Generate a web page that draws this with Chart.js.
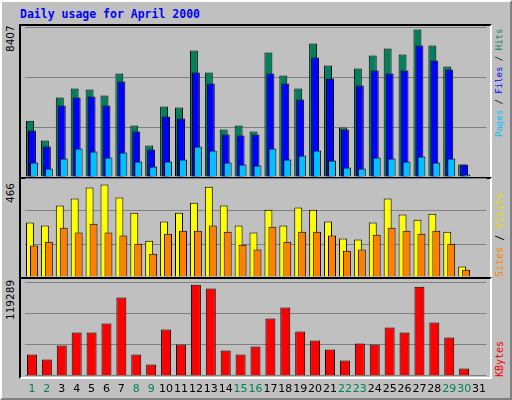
<!DOCTYPE html>
<html>
<head>
<meta charset="utf-8">
<script src="https://cdn.jsdelivr.net/npm/chart.js@4/dist/chart.umd.min.js"></script>
<style>
  body { margin: 0; width: 512px; height: 400px; background: #c0c0c0; position: relative; overflow: hidden; font-family: "DejaVu Sans Mono", monospace; }
  #frame { position: absolute; left: 0; top: 0; width: 508px; height: 396px; border-top: 2px solid #fff; border-left: 2px solid #fff; border-right: 2px solid #808080; border-bottom: 2px solid #808080; }
  .panel { position: absolute; left: 19px; width: 469px; border-top: 2px solid #000; border-left: 2px solid #000; border-right: 2px solid #fff; border-bottom: 2px solid #fff; }
  canvas { position: absolute; }
  .vt { position: absolute; transform-origin: 0 0; transform: rotate(-90deg); white-space: nowrap; font-size: 10px; }
  .num { font-family: "DejaVu Sans"; font-size: 10.5px; }
  #title { position: absolute; left: 20px; top: 7px; color: #0000ff; font-weight: bold; font-size: 11.5px; }
</style>
</head>
<body>
<div id="frame"></div>
<div id="title">Daily usage for April 2000</div>
<div class="panel" style="top:24px;height:151px"></div>
<div class="panel" style="top:177px;height:98px"></div>
<div class="panel" style="top:277px;height:98px"></div>
<canvas id="c1" style="left:21px;top:26.7px" width="469" height="150"></canvas>
<canvas id="c2" style="left:21px;top:177.7px" width="469" height="99"></canvas>
<canvas id="c3" style="left:21px;top:281.7px" width="469" height="118.3"></canvas>

<div class="vt num" style="left:4px;top:52px">8407</div>
<div class="vt num" style="left:4px;top:203px">466</div>
<div class="vt num" style="left:4px;top:320px">119289</div>
<div class="vt" style="left:494px;top:137px;font-size:9px"><span style="color:#00c0ff">Pages</span> / <span style="color:#0000ff">Files</span> / <span style="color:#00805c">Hits</span></div>
<div class="vt" style="left:494px;top:277px"><span style="color:#ff8000">Sites</span> / <span style="color:#e0e000">Visits</span></div>
<div class="vt" style="left:494px;top:377px"><span style="color:#ff0000">KBytes</span></div>

<script>
const days = ['1','2','3','4','5','6','7','8','9','10','11','12','13','14','15','16','17','18','19','20','21','22','23','24','25','26','27','28','29','30','31'];
const weekend = ['1','2','8','9','15','16','22','23','29','30'];

const hits = [3200,2068,4510,5021,4965,4624,5873,2920,1784,3999,3942,7180,5930,2692,2920,2579,7066,5760,5021,7577,6328,2806,6157,6896,7293,6953,8372,7464,6271,704,0];
const files = [2635,1727,4056,4510,4567,4056,5419,2579,1556,3431,3317,5930,5305,2408,2352,2408,5873,5305,4397,6782,5589,2692,5192,6044,5873,6044,7464,6612,6100,704,0];
const pages = [818,477,1045,1613,1443,1102,1386,875,591,875,988,1727,1500,818,704,648,1613,988,1216,1500,932,534,477,1102,1045,875,1159,818,1045,136,0];

const visits = [256,242,336,369,421,435,374,303,171,261,303,350,425,336,242,209,317,242,327,317,261,181,176,256,369,294,270,298,213,49,0];
const sites = [148,166,232,209,251,209,195,157,110,204,218,218,242,213,152,129,237,166,213,213,195,124,129,199,232,218,204,218,157,34,0];

const kbytes = [27600,21200,39300,56200,56200,67900,101600,27600,14700,60100,40600,118400,113300,32800,27600,38000,74300,88600,57500,45800,34100,19800,41900,40600,62700,56200,115800,69100,49700,9500,0];

const axisMax1 = 8520, axisMax2 = 466, axisMax3 = 121900;

// draw first dataset at the back, later ones on top
const drawOrder = {
  id: 'drawOrder',
  beforeDatasetDraw(chart) { return !!chart._ownDraw; },
  afterDatasetsDraw(chart) {
    chart._ownDraw = true;
    chart.data.datasets.forEach((d, i) => chart.getDatasetMeta(i).controller.draw());
    chart._ownDraw = false;
  }
};

function opts(max, bottomPad) {
  return {
    responsive: false,
    animation: false,
    layout: { padding: { left: 3.5, right: 3.5, top: 0, bottom: bottomPad || 0 } },
    plugins: { legend: { display: false }, tooltip: { enabled: false } },
    scales: {
      x: { display: false },
      y: {
        min: 0, max: max,
        ticks: { display: false, stepSize: max / 3 },
        grid: { color: '#808080', drawTicks: false, lineWidth: 1 },
        border: { display: false },
        afterFit: s => { s.width = 0; }
      }
    }
  };
}

new Chart(document.getElementById('c1'), {
  type: 'bar',
  data: {
    labels: days,
    datasets: [
      { data: hits, backgroundColor: '#00805c', borderColor: '#000', borderWidth: 1, categoryPercentage: 0.4, barPercentage: 4 },
      { data: files, backgroundColor: '#0000ff', borderColor: '#000', borderWidth: 1, categoryPercentage: 0.4, barPercentage: 4 },
      { data: pages, backgroundColor: '#00c0ff', borderColor: '#000', borderWidth: 1, categoryPercentage: 0.4, barPercentage: 4 }
    ]
  },
  options: opts(axisMax1),
  plugins: [drawOrder]
});

new Chart(document.getElementById('c2'), {
  type: 'bar',
  data: {
    labels: days,
    datasets: [
      { data: visits, backgroundColor: '#ffff00', borderColor: '#000', borderWidth: 1, categoryPercentage: 0.533, barPercentage: 2 },
      { data: sites, backgroundColor: '#ff8000', borderColor: '#000', borderWidth: 1, categoryPercentage: 0.533, barPercentage: 2 }
    ]
  },
  options: opts(axisMax2),
  plugins: [drawOrder]
});

// day numbers under the bottom panel
const dayLabels = {
  id: 'dayLabels',
  afterDraw(chart) {
    const c = chart.ctx, xs = chart.scales.x;
    c.save();
    c.font = '11px "DejaVu Sans"';
    c.textAlign = 'center';
    c.textBaseline = 'middle';
    days.forEach((d, i) => {
      c.fillStyle = weekend.includes(d) ? '#00805c' : '#000';
      c.fillText(d, xs.getPixelForValue(i), chart.chartArea.bottom + 13.5);
    });
    c.restore();
  }
};

new Chart(document.getElementById('c3'), {
  type: 'bar',
  data: {
    labels: days,
    datasets: [
      { data: kbytes, backgroundColor: '#ff0000', borderColor: '#000', borderWidth: 1, categoryPercentage: 1, barPercentage: 0.67 }
    ]
  },
  options: opts(axisMax3, 24.3),
  plugins: [dayLabels]
});
</script>
</body>
</html>
